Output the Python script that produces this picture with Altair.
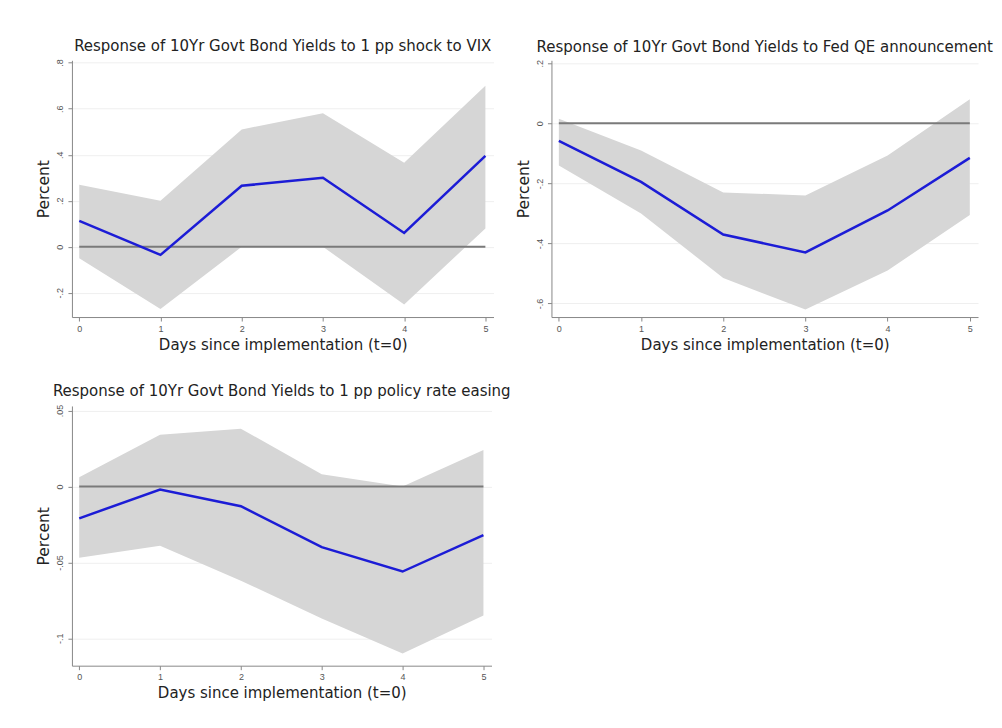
import altair as alt
import pandas as pd

days = [0, 1, 2, 3, 4, 5]

vix_irf = [0.113, -0.035, 0.265, 0.300, 0.060, 0.395]
vix_lo = [-0.050, -0.270, 0.000, 0.000, -0.250, 0.080]
vix_hi = [0.270, 0.200, 0.510, 0.580, 0.365, 0.700]

qe_irf = [-0.058, -0.195, -0.370, -0.430, -0.290, -0.115]
qe_lo = [-0.140, -0.300, -0.515, -0.620, -0.490, -0.305]
qe_hi = [0.015, -0.090, -0.230, -0.240, -0.107, 0.080]

pr_irf = [-0.021, -0.002, -0.013, -0.040, -0.056, -0.032]
pr_lo = [-0.047, -0.039, -0.062, -0.087, -0.110, -0.085]
pr_hi = [0.006, 0.034, 0.038, 0.008, 0.000, 0.024]

titles = [
    "Response of 10Yr Govt Bond Yields to 1 pp shock to VIX",
    "Response of 10Yr Govt Bond Yields to Fed QE announcement",
    "Response of 10Yr Govt Bond Yields to 1 pp policy rate easing",
]
y_ticks = [
    [-0.2, 0, 0.2, 0.4, 0.6, 0.8],
    [-0.6, -0.4, -0.2, 0, 0.2],
    [-0.1, -0.05, 0, 0.05],
]
y_domains = [[-0.305, 0.81], [-0.645, 0.21], [-0.118, 0.053]]

BLUE = "#1c1cd6"
BAND = "#d6d6d6"
FONT = "DejaVu Sans"
TICKFONT = "Liberation Sans"

label_expr = "(datum.value < 0 ? '-' : '') + replace(format(abs(datum.value), '~g'), '0.', '.')"


def panel(irf, lo, hi, title, ydom, yvals, w, h):
    df = pd.DataFrame({"day": days, "irf": irf, "lo": lo, "hi": hi})
    xs = alt.Scale(domain=[-0.09, 5.1], nice=False, zero=False)
    ys = alt.Scale(domain=ydom, nice=False, zero=False)
    xax = alt.Axis(values=days, title="Days since implementation (t=0)", grid=False,
                   format="d")
    yax = alt.Axis(values=yvals, title="Percent", grid=True, labelExpr=label_expr,
                   labelAngle=270, labelAlign="center", labelBaseline="bottom")
    base = alt.Chart(df)
    area = base.mark_area(color=BAND, opacity=1).encode(
        x=alt.X("day:Q", scale=xs, axis=xax),
        y=alt.Y("lo:Q", scale=ys, axis=yax),
        y2="hi:Q",
    )
    zdf = pd.DataFrame({"x0": [0], "x1": [5], "z": [0]})
    zero = alt.Chart(zdf).mark_rule(color="#7a7a7a", strokeWidth=2).encode(
        x=alt.X("x0:Q", scale=xs, axis=xax),
        x2="x1:Q",
        y=alt.Y("z:Q", scale=ys, axis=yax),
    )
    line = base.mark_line(color=BLUE, strokeWidth=2.5).encode(
        x=alt.X("day:Q", scale=xs, axis=xax),
        y=alt.Y("irf:Q", scale=ys, axis=yax),
    )
    return alt.layer(area, zero, line).properties(
        width=w, height=h,
        title=alt.TitleParams(title, fontSize=15, font=FONT, fontWeight="normal",
                              color="#222222", anchor="middle", offset=5),
    )


p1 = panel(vix_irf, vix_lo, vix_hi, titles[0], y_domains[0], y_ticks[0], 422, 257)
p2 = panel(qe_irf, qe_lo, qe_hi, titles[1], y_domains[1], y_ticks[1], 427, 257)
p3 = panel(pr_irf, pr_lo, pr_hi, titles[2], y_domains[2], y_ticks[2], 420, 260)

chart = alt.vconcat(
    alt.hconcat(p1, p2, spacing=22),
    p3,
    spacing=32,
).configure_view(stroke=None).configure_axis(
    labelFont=TICKFONT, titleFont=FONT, labelFontSize=9, labelColor="#555555",
    titleFontSize=15, titleFontWeight="normal", titleColor="#222222",
    domainColor="#888888", tickColor="#888888", gridColor="#efefef",
    tickSize=4, labelPadding=3,
).configure_axisY(titleFontSize=15.5, titlePadding=4).properties(
    padding={"left": 29, "top": 30, "right": 0, "bottom": 5},
    background="white",
)

chart.save("out.html", embed_options={"renderer": "svg", "actions": False})
